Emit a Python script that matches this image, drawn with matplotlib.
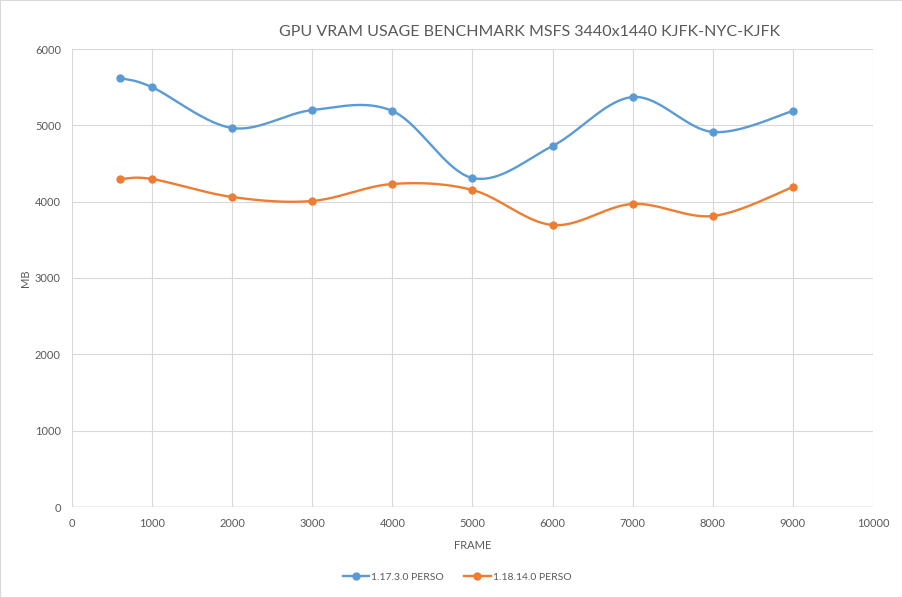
import numpy as np
import matplotlib
matplotlib.use("Agg")
import matplotlib.pyplot as plt
from matplotlib.patches import Rectangle

frames = [600, 1000, 2000, 3000, 4000, 5000, 6000, 7000, 8000, 9000]
v1173 = [5620, 5500, 4965, 5200, 5188, 4310, 4730, 5371, 4913, 5188]
v11814 = [4297, 4297, 4061, 4009, 4232, 4153, 3694, 3970, 3812, 4192]
series_names = ["1.17.3.0 PERSO", "1.18.14.0 PERSO"]
colors = ["#5B9BD5", "#ED7D31"]

plt.rcParams['font.family'] = ['Lato', 'DejaVu Sans']


def smooth(xs, ys, n=40):
    xs = np.asarray(xs, float)
    ys = np.asarray(ys, float)
    px = np.concatenate([[xs[0]], xs, [xs[-1]]])
    py = np.concatenate([[ys[0]], ys, [ys[-1]]])
    ox, oy = [], []
    t = np.linspace(0, 1, n)
    for i in range(1, len(px) - 2):
        p0 = np.array([px[i], py[i]])
        p3 = np.array([px[i + 1], py[i + 1]])
        p1 = p0 + (np.array([px[i + 1], py[i + 1]]) - np.array([px[i - 1], py[i - 1]])) / 6
        p2 = p3 - (np.array([px[i + 2], py[i + 2]]) - np.array([px[i], py[i]])) / 6
        b = ((1 - t) ** 3)[:, None] * p0 + (3 * (1 - t) ** 2 * t)[:, None] * p1 + \
            (3 * (1 - t) * t ** 2)[:, None] * p2 + (t ** 3)[:, None] * p3
        ox.extend(b[:, 0]); oy.extend(b[:, 1])
    return ox, oy


fig = plt.figure(figsize=(9.03, 5.98), dpi=100)
fig.patches.append(Rectangle((0, 0), 1, 1, transform=fig.transFigure, fill=False,
                             edgecolor="#d9d9d9", linewidth=1.5))
ax = fig.add_axes([72 / 903, 91 / 598, 801 / 903, 458 / 598])
for s in ax.spines.values():
    s.set_visible(False)
ax.set_xlim(0, 10000)
ax.set_ylim(0, 6000)
ax.set_xticks(np.arange(0, 10001, 1000))
ax.set_yticks(np.arange(0, 6001, 1000))
ax.grid(True, color="#d9d9d9", linewidth=0.8)
ax.set_axisbelow(True)
ax.tick_params(length=0, labelsize=8, colors="#595959", pad=8)
ax.axhline(0, color="#bfbfbf", linewidth=1)

for ys, c, name in zip([v1173, v11814], colors, series_names):
    sx, sy = smooth(frames, ys)
    ax.plot(sx, sy, color=c, linewidth=1.7, zorder=3)
    ax.plot(frames, ys, 'o', color=c, markersize=5, zorder=4)
    ax.plot([], [], '-o', color=c, markersize=5, linewidth=1.7, label=name)

ax.set_xlabel("FRAME", fontsize=8, color="#595959", labelpad=8)
ax.set_ylabel("MB", fontsize=8, color="#595959", labelpad=3)
fig.text(530 / 903, 1 - 32 / 598, "GPU VRAM USAGE BENCHMARK MSFS 3440x1440 KJFK-NYC-KJFK",
         ha="center", va="center", fontsize=11.5, color="#595959")
fig.legend(loc="center", bbox_to_anchor=(457 / 903, 1 - 577 / 598), ncol=2, frameon=False,
           fontsize=7.5, labelcolor="#595959", handlelength=2.5, columnspacing=2, handletextpad=0.2)

fig.savefig("out.png", dpi=100)
